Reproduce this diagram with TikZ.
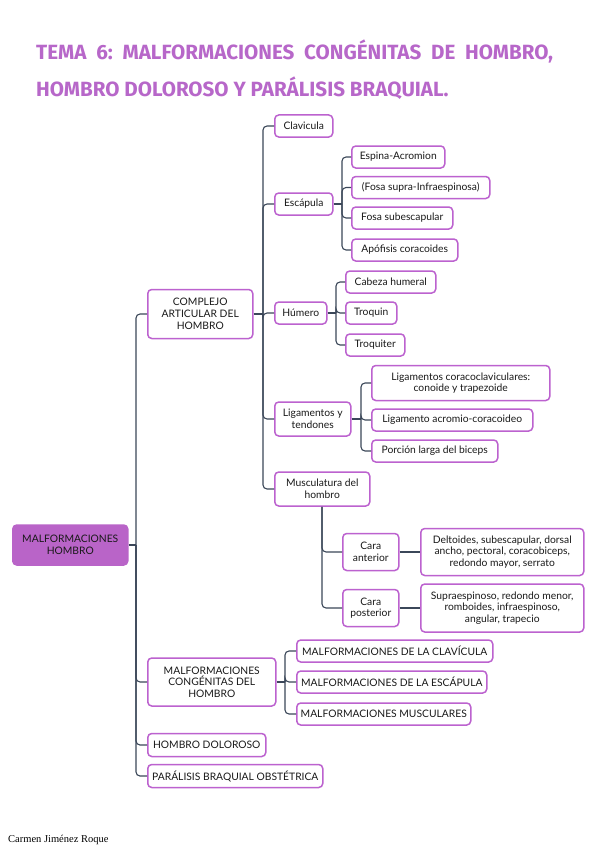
\documentclass[tikz,border=0pt]{standalone}
\usepackage{fontspec}
\setmainfont{Lato}
\newfontfamily\titlefont{Fira Sans}
\newfontfamily\footfont{Liberation Serif}
\usepackage{tikz}
\usetikzlibrary{calc}
\definecolor{purplecol}{HTML}{BC62CF}
\definecolor{rootcol}{HTML}{B964C8}
\definecolor{titlecol}{HTML}{B767C9}
\definecolor{linecol}{HTML}{3B4759}
\colorlet{textcol}{black!90}
\tikzstyle{box} = [draw=purplecol, line width=1.5, rounded corners=4, fill=white,
                   anchor=west, align=center, minimum height=22, inner sep=2,
                   text=textcol, font=\fontsize{10.3}{11.7}\selectfont]
\tikzstyle{root} = [box, fill=rootcol, draw=rootcol]
\tikzstyle{link} = [line width=1.1, color=linecol, rounded corners=4]
\tikzstyle{title} = [anchor=base west, text=titlecol, inner sep=0,
                     font=\titlefont\bfseries\fontsize{20.6}{24}\selectfont]

\begin{document}
\begin{tikzpicture}[x=1pt,y=-1pt]
  \useasboundingbox (0,0) rectangle (599,848);
  \fill[white] (0,0) rectangle (599,848);

  % TITLE
  \node[title] (title1) at (36,60) {TEMA\ \ 6:\ \ MALFORMACIONES\ \ CONGÉNITAS\ \ DE\ \ HOMBRO,};
  \node[title] (title2) at (36,97) {HOMBRO DOLOROSO Y PARÁLISIS BRAQUIAL.};

  % ROOT AND FIRST LEVEL
  \node[root, minimum width=115, minimum height=40] (root) at (12,545) {MALFORMACIONES\\HOMBRO};
  \node[box, minimum width=105, minimum height=49] (complejo) at (147,314) {COMPLEJO\\ARTICULAR DEL\\HOMBRO};
  \node[box, minimum width=128, minimum height=48] (malfcong) at (147,682) {MALFORMACIONES\\CONGÉNITAS DEL\\HOMBRO};
  \node[box, minimum width=118, minimum height=23] (doloroso) at (147,745) {HOMBRO DOLOROSO};
  \node[box, minimum width=175, minimum height=23] (paralisis) at (147,776) {PARÁLISIS BRAQUIAL OBSTÉTRICA};

  % COMPLEJO ARTICULAR
  \node[box, minimum width=58] (clavicula) at (274,126) {Clavicula};
  \node[box, minimum width=58] (escapula) at (274,204) {Escápula};
  \node[box, minimum width=52] (humero) at (274,313) {Húmero};
  \node[box, minimum width=76, minimum height=34] (ligamentos) at (274,419) {Ligamentos y\\tendones};
  \node[box, minimum width=95, minimum height=34] (musculatura) at (274,489) {Musculatura del\\hombro};

  % ESCAPULA
  \node[box, minimum width=93] (espina) at (351,157) {Espina-Acromion};
  \node[box, minimum width=138] (fosasupra) at (351,187.5) {(Fosa supra-Infraespinosa)};
  \node[box, minimum width=101] (fosasub) at (351,218) {Fosa subescapular};
  \node[box, minimum width=106] (apofisis) at (351,250) {Apófisis coracoides};

  % HUMERO
  \node[box, minimum width=90] (cabeza) at (345,282) {Cabeza humeral};
  \node[box, minimum width=51] (troquin) at (345,313) {Troquin};
  \node[box, minimum width=59] (troquiter) at (345,345) {Troquiter};

  % LIGAMENTOS
  \node[box, minimum width=178, minimum height=35] (coracoclav) at (371,383) {Ligamentos coracoclaviculares:\\conoide y trapezoide};
  \node[box, minimum width=161] (acromio) at (371,420) {Ligamento acromio-coracoideo};
  \node[box, minimum width=126] (porcion) at (371,451) {Porción larga del biceps};

  % MUSCULATURA
  \node[box, minimum width=56, minimum height=37] (caraant) at (342,552) {Cara\\anterior};
  \node[box, minimum width=56, minimum height=37] (carapost) at (342,608) {Cara\\posterior};
  \node[box, minimum width=163, minimum height=47] (anteriores) at (420,552)
    {Deltoides, subescapular, dorsal\\ancho, pectoral, coracobiceps,\\redondo mayor, serrato};
  \node[box, minimum width=163, minimum height=48] (posteriores) at (420,608)
    {Supraespinoso, redondo menor,\\romboides, infraespinoso,\\angular, trapecio};

  % MALFORMACIONES CONGENITAS
  \node[box, minimum width=196] (malfclav) at (296,651) {MALFORMACIONES DE LA CLAVÍCULA};
  \node[box, minimum width=190] (malfescap) at (296,682) {MALFORMACIONES DE LA ESCÁPULA};
  \node[box, minimum width=174] (malfmusc) at (296,714) {MALFORMACIONES MUSCULARES};

  % LINKS
  \coordinate (j0) at (136,545);
  \draw[link] (root.east) -- (j0);
  \foreach \n in {complejo,malfcong,doloroso,paralisis}
    \draw[link] (j0) |- (\n.west);

  \coordinate (j1) at (263,314);
  \draw[link] (complejo.east) -- (j1);
  \foreach \n in {clavicula,escapula,humero,ligamentos,musculatura}
    \draw[link] (j1) |- (\n.west);

  \coordinate (j2) at (342,204);
  \draw[link] (escapula.east) -- (j2);
  \foreach \n in {espina,fosasupra,fosasub,apofisis}
    \draw[link] (j2) |- (\n.west);

  \coordinate (j3) at (336,313);
  \draw[link] (humero.east) -- (j3);
  \foreach \n in {cabeza,troquin,troquiter}
    \draw[link] (j3) |- (\n.west);

  \coordinate (j4) at (361,419);
  \draw[link] (ligamentos.east) -- (j4);
  \foreach \n in {coracoclav,acromio,porcion}
    \draw[link] (j4) |- (\n.west);

  \coordinate (j5) at (322,0 |- musculatura.south);
  \foreach \n in {caraant,carapost}
    \draw[link] (j5) |- (\n.west);
  \draw[link] (caraant.east) -- (anteriores.west);
  \draw[link] (carapost.east) -- (posteriores.west);

  \coordinate (j6) at (285,682);
  \draw[link] (malfcong.east) -- (j6);
  \foreach \n in {malfclav,malfescap,malfmusc}
    \draw[link] (j6) |- (\n.west);

  % FOOTER
  \node[anchor=base west, inner sep=0, font=\footfont\fontsize{10.5}{12}\selectfont] (autor) at (8,842) {Carmen Jiménez Roque};
\end{tikzpicture}
\end{document}
